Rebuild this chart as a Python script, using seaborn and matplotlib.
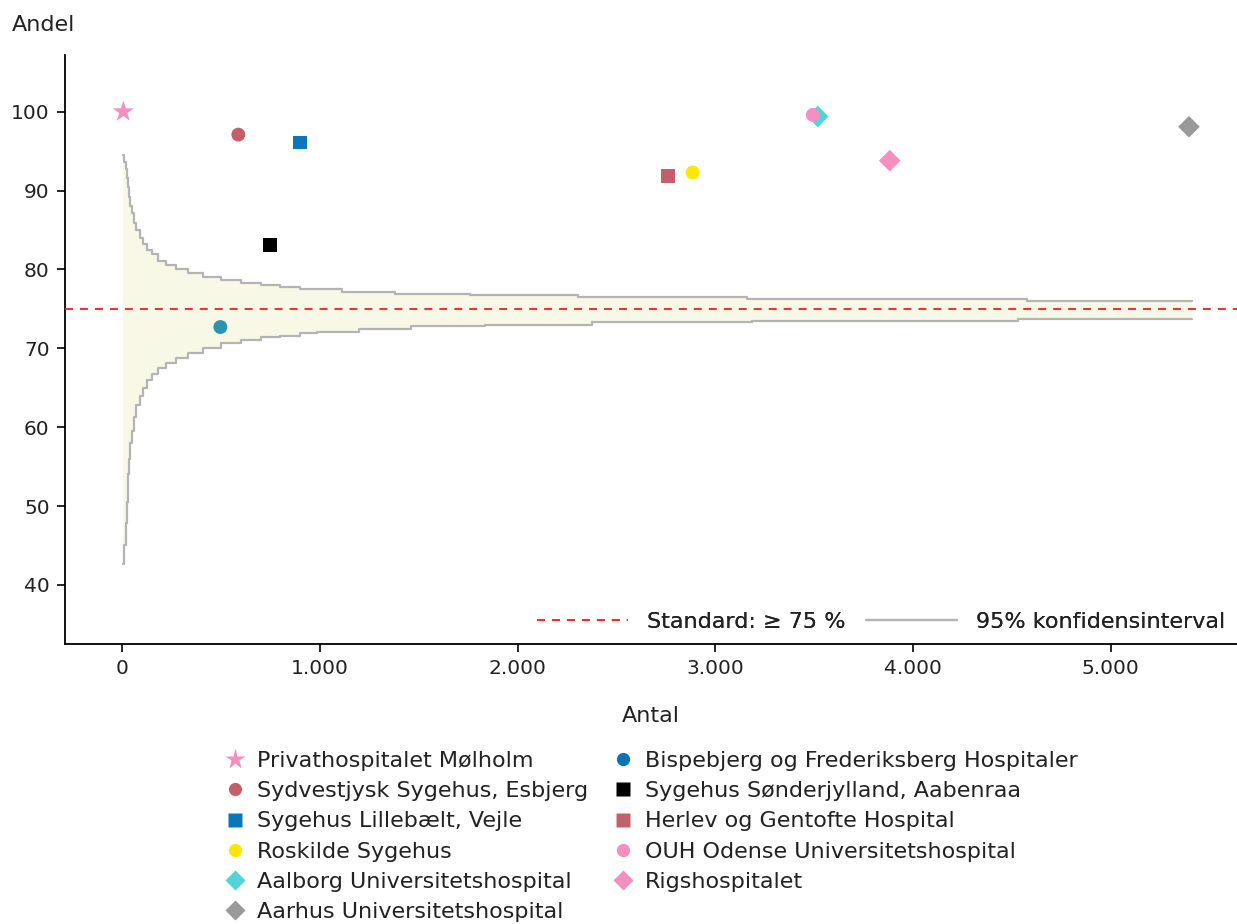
import matplotlib
matplotlib.use("Agg")
import matplotlib.pyplot as plt
import seaborn as sns
import pandas as pd
from matplotlib.lines import Line2D
from matplotlib.ticker import FuncFormatter

# ---- data ----
hospitals = ["Privathospitalet Mølholm", "Sydvestjysk Sygehus, Esbjerg", "Sygehus Lillebælt, Vejle",
             "Roskilde Sygehus", "Aalborg Universitetshospital", "Aarhus Universitetshospital",
             "Bispebjerg og Frederiksberg Hospitaler", "Sygehus Sønderjylland, Aabenraa",
             "Herlev og Gentofte Hospital", "OUH Odense Universitetshospital", "Rigshospitalet"]
antal = [5, 587, 901, 2886, 3519, 5397, 496, 749, 2759, 3494, 3883]
andel = [100.0, 97.1, 96.1, 92.3, 99.4, 98.1, 72.7, 83.1, 91.8, 99.6, 93.8]
markers = ["*", "o", "s", "o", "D", "D", "o", "s", "s", "o", "D"]
legend_colors = ["#f48fbd", "#c45f6a", "#0a78b8", "#ffe600", "#52d3d8", "#999999",
                 "#0a72b5", "#000000", "#c4606b", "#f58fbf", "#f58fbf"]
point_colors = ["#f48fbd", "#c45f6a", "#0a78b8", "#ffe600", "#52d3d8", "#999999",
                "#2a95ae", "#000000", "#c4606b", "#f58fbf", "#f58fbf"]
marker_sizes = [16, 10, 10, 10, 11, 11, 10, 10, 10, 10, 11]

# funnel (95% confidence interval)
ci_n = [4, 11, 17, 23, 29, 35, 41, 47, 58, 70, 87, 104, 127, 150, 180, 220, 270, 330, 410, 500,
        600, 700, 800, 900, 987, 1114, 1200, 1382, 1463, 1757, 1833, 2304, 2375, 3159, 3185,
        4532, 4577, 5413]
ci_upper = [94.5, 93.6, 92.8, 91.6, 90.4, 89.2, 88.0, 87.2, 85.9, 85.0, 84.0, 83.2, 82.5, 81.9,
            81.1, 80.6, 80.1, 79.6, 79.1, 78.7, 78.3, 78.0, 77.8, 77.5, 77.5, 77.2, 77.2, 76.9,
            76.9, 76.7, 76.7, 76.5, 76.5, 76.3, 76.3, 76.3, 76.0, 76.0]
ci_lower = [42.6, 45.0, 47.8, 50.5, 54.1, 56.0, 58.0, 59.5, 61.3, 62.8, 64.0, 65.0, 66.0, 66.8,
            67.5, 68.2, 68.8, 69.4, 70.0, 70.7, 71.1, 71.4, 71.6, 71.9, 72.1, 72.1, 72.4, 72.4,
            72.8, 72.8, 73.0, 73.0, 73.3, 73.3, 73.45, 73.7, 73.7, 73.7]
standard = 75
x_ticks = [0, 1000, 2000, 3000, 4000, 5000]
y_ticks = [40, 50, 60, 70, 80, 90, 100]

# ---- plot ----
sns.set_theme(style="white")
plt.rcParams["font.family"] = ["DejaVu Sans"]

TXT = "#222222"
FS = 16
fig = plt.figure(figsize=(12.37, 9.24), dpi=100)
ax = fig.add_axes([65 / 1237, 1 - 644 / 924, (1237 - 65) / 1237, (644 - 55) / 924])

ci = pd.DataFrame({"n": ci_n, "upper": ci_upper, "lower": ci_lower})
ax.fill_between(ci["n"], ci["lower"], ci["upper"], step="post", color="#f7f9e6", lw=0, zorder=1)
sns.lineplot(data=ci, x="n", y="upper", ax=ax, color="#b4b4b4", lw=1.6, drawstyle="steps-post",
             zorder=2)
sns.lineplot(data=ci, x="n", y="lower", ax=ax, color="#b4b4b4", lw=1.6, drawstyle="steps-post",
             zorder=2)
dash = (0, (4.1, 3.6))
ax.axhline(standard, color="#ff2a2a", lw=1.4, ls=dash, zorder=3)

df = pd.DataFrame({"hospital": hospitals, "antal": antal, "andel": andel})
for i, h in enumerate(hospitals):
    sns.scatterplot(data=df[df["hospital"] == h], x="antal", y="andel", ax=ax, marker=markers[i],
                    color=point_colors[i], s=marker_sizes[i] ** 2, edgecolor="none", zorder=5 + i,
                    legend=False)

ax.set_xlim(-290, 5640)
ax.set_ylim(32.5, 107.2)
ax.set_xticks(x_ticks)
ax.set_yticks(y_ticks)
ax.xaxis.set_major_formatter(FuncFormatter(lambda v, p: f"{int(v):,}".replace(",", ".")))
for s in ["top", "right"]:
    ax.spines[s].set_visible(False)
for s in ["left", "bottom"]:
    ax.spines[s].set_color("black")
    ax.spines[s].set_linewidth(1.3)
ax.tick_params(axis="both", direction="out", length=6, width=1.2, color="black",
               labelsize=14.5, labelcolor=TXT, bottom=True, left=True, pad=5)
ax.set_xlabel("Antal", fontsize=FS, labelpad=20, color=TXT)
ax.set_ylabel("")
fig.text(12 / 1237, 1 - 25 / 924, "Andel", fontsize=FS, va="center", ha="left", color=TXT)

# inner legend
inner = [Line2D([0], [0], color="#ff2a2a", lw=1.4, ls=dash),
         Line2D([0], [0], color="#b4b4b4", lw=1.6)]
leg1 = ax.legend(inner, ["Standard: \u2265 75 %", "95% konfidensinterval"], ncol=2, frameon=False,
                 loc="lower right", bbox_to_anchor=(1.0, 0.0), fontsize=FS, handlelength=4.1,
                 columnspacing=0.9, handletextpad=0.85, borderaxespad=0.15, labelcolor=TXT)
ax.add_artist(leg1)

# bottom legend
handles = [Line2D([0], [0], marker=markers[i], color="none", markerfacecolor=legend_colors[i],
                  markeredgecolor="none", markersize=marker_sizes[i] * 0.95)
           for i in range(len(hospitals))]
fig.legend(handles, hospitals, ncol=2, frameon=False, loc="upper left",
           bbox_to_anchor=(224 / 1237, 1 - 751 / 924), fontsize=FS, handlelength=1.0,
           handletextpad=0.5, columnspacing=1.05, labelspacing=0.46, labelcolor=TXT,
           borderaxespad=0, borderpad=0)

fig.savefig("out.png", dpi=100)
